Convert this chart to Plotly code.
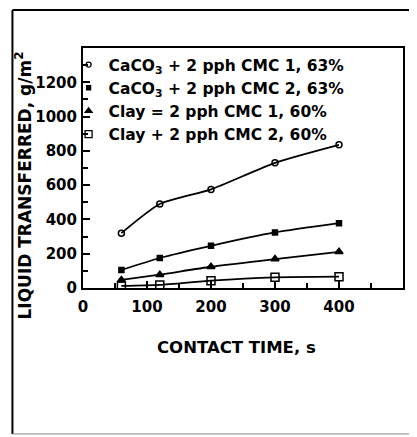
import plotly.graph_objects as go

contact_time = [60, 120, 200, 300, 400]
caco3_cmc1 = [320, 490, 575, 730, 835]
caco3_cmc2 = [105, 175, 246, 324, 378]
clay_cmc1 = [47, 78, 124, 169, 211]
clay_cmc2 = [12, 18, 43, 62, 66]

series_names = [
    "CaCO<sub>3</sub> + 2 pph CMC 1, 63%",
    "CaCO<sub>3</sub> + 2 pph CMC 2, 63%",
    "Clay = 2 pph CMC 1, 60%",
    "Clay + 2 pph CMC 2, 60%",
]
x_ticks = [0, 100, 200, 300, 400, 500]
y_ticks = [0, 200, 400, 600, 800, 1000, 1200]

FONT = "DejaVu Sans"
series = [caco3_cmc1, caco3_cmc2, clay_cmc1, clay_cmc2]
symbols = ["circle-open", "square", "triangle-up", "square-open"]
sizes = [6, 5, 7, 8]

fig = go.Figure()
for name, ys, sym, sz in zip(series_names, series, symbols, sizes):
    fig.add_trace(go.Scatter(
        x=contact_time, y=ys, mode="lines+markers", name=name, showlegend=False,
        line=dict(color="black", width=1.8, shape="spline", smoothing=0.6),
        marker=dict(symbol=sym, size=sz, color="black",
                    line=dict(color="black", width=1.5)),
    ))
# legend entries: marker glyph only, as in the reference
for name, sym, sz in zip(series_names, symbols, sizes):
    fig.add_trace(go.Scatter(
        x=[None], y=[None], mode="markers", name=name, showlegend=True,
        marker=dict(symbol=sym, size=sz - 1, color="black",
                    line=dict(color="black", width=1.3)),
    ))

axis_common = dict(
    showgrid=False, zeroline=False, showline=True, mirror=True,
    linecolor="black", linewidth=2, ticks="inside", tickcolor="black",
    tickwidth=1.5, ticklen=7,
    tickfont=dict(family=FONT, size=15, color="black", weight="bold"),
)
fig.update_xaxes(range=[0, 500], tickvals=x_ticks, ticktext=[str(v) for v in x_ticks],
                 minor=dict(dtick=50, ticks="inside", ticklen=5, tickcolor="black"),
                 ticklabelstandoff=4, **axis_common)
fig.update_yaxes(range=[0, 1400], tickvals=y_ticks, ticktext=[str(v) for v in y_ticks],
                 minor=dict(dtick=100, ticks="inside", ticklen=5, tickcolor="black"),
                 ticklabelstandoff=1, **axis_common)

fig.update_layout(
    width=409, height=429,
    margin=dict(l=75, r=12, t=40, b=149),
    paper_bgcolor="white", plot_bgcolor="white",
    showlegend=True,
    legend=dict(x=-0.045, y=1.0, xanchor="left", yanchor="top",
                bgcolor="rgba(0,0,0,0)", borderwidth=0,
                font=dict(family=FONT, size=15.5, color="black", weight="bold"),
                itemwidth=30, tracegroupgap=0),
    font=dict(family=FONT, color="black"),
    annotations=[
        dict(text="CONTACT TIME, s", xref="paper", yref="paper", x=0.481, y=-0.246,
             showarrow=False, font=dict(family=FONT, size=16.5, color="black", weight="bold"),
             xanchor="center", yanchor="middle"),
        dict(text="LIQUID TRANSFERRED, g/m<sup>2</sup>", xref="paper", yref="paper",
             x=-0.186, y=0.429, textangle=-90, showarrow=False,
             font=dict(family=FONT, size=17, color="black", weight="bold"),
             xanchor="center", yanchor="middle"),
    ],
    shapes=[
        dict(type="line", xref="paper", yref="paper", x0=-0.2205, x1=-0.2205, y0=1.158, y1=-0.608,
             line=dict(color="black", width=2)),
        dict(type="line", xref="paper", yref="paper", x0=-0.2205, x1=1.04, y0=1.158, y1=1.158,
             line=dict(color="black", width=2)),
        dict(type="line", xref="paper", yref="paper", x0=-0.2205, x1=1.04, y0=-0.608, y1=-0.608,
             line=dict(color="#888888", width=1)),
    ],
)

fig.write_html("out.html")
